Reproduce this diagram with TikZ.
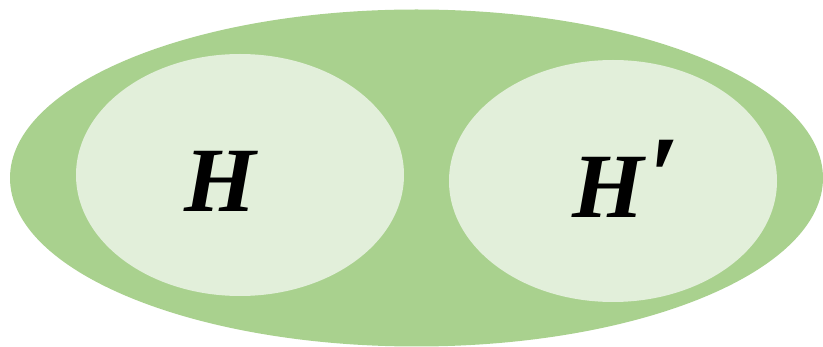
\documentclass[tikz,border=0pt]{standalone}
\usepackage{fontspec}
\setmainfont{Liberation Serif}
\usetikzlibrary{shapes.geometric, positioning}

\definecolor{outergreen}{HTML}{A9D18E}
\definecolor{innergreen}{HTML}{E2EFDA}

\begin{document}
\begin{tikzpicture}[
      x=1pt, y=-1pt,
      outer/.style={ellipse, fill=outergreen, inner sep=0pt,
                    minimum width=813pt, minimum height=337pt},
      inner/.style={ellipse, fill=innergreen, inner sep=0pt,
                    minimum width=328pt, minimum height=242pt},
      sym/.style={font=\fontsize{92}{92}\selectfont\bfseries\itshape,
                  inner sep=0pt, anchor=base}
    ]
    \useasboundingbox (0,0) rectangle (823,347);
    \node[outer] (all)   at (416.5,178) {};
    \node[inner] (left)  at (240,175) {};
    \node[inner] (right) at (613,181) {};
    \node[sym] (h)      at (220,212) {H};
    \node[sym] (hprime) at (626,218) {H\kern4pt{\fontsize{115}{115}\selectfont\raisebox{2pt}{′}}};
  \end{tikzpicture}
\end{document}
